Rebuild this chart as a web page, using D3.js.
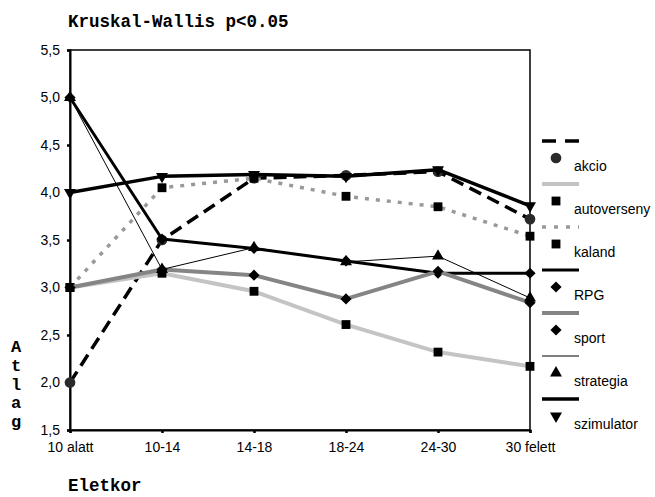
<!DOCTYPE html>
<html>
<head>
<meta charset="utf-8">
<script src="https://cdn.jsdelivr.net/npm/d3@7"></script>
<style>
body { margin: 0; background: #fff; }
text { font-family: "Liberation Sans", Arial, sans-serif; }
.mono { font-family: "Liberation Mono", "Courier New", monospace; font-weight: bold; }
</style>
</head>
<body>
<div id="chart"></div>
<script>
var categories = ["10 alatt", "10-14", "14-18", "18-24", "24-30", "30 felett"];
var seriesNames = ["akcio", "autoverseny", "kaland", "RPG", "sport", "strategia", "szimulator"];

var akcio       = [2.00, 3.50, 4.15, 4.18, 4.22, 3.72];
var autoverseny = [3.00, 3.15, 2.96, 2.61, 2.32, 2.17];
var kaland      = [3.00, 4.05, 4.15, 3.96, 3.85, 3.54];
var rpg         = [5.00, 3.51, 3.41, 3.28, 3.15, 3.15];
var sport       = [3.00, 3.19, 3.13, 2.88, 3.17, 2.84];
var strategia   = [5.00, 3.19, 3.42, 3.27, 3.33, 2.89];
var szimulator  = [4.00, 4.17, 4.19, 4.17, 4.24, 3.86];

var yTicks = [1.5, 2.0, 2.5, 3.0, 3.5, 4.0, 4.5, 5.0, 5.5];
var yTitle = "Atlag";

var seriesValues = [akcio, autoverseny, kaland, rpg, sport, strategia, szimulator];

// line + marker look of every series, in the same order as seriesNames
var styles = [
    {stroke: "#000", width: 3.5, dash: "13,7", symbol: "circle", fill: "#2a2a2a"},
    {stroke: "#c4c4c4", width: 4, dash: null, symbol: "square", fill: "#000"},
    {stroke: "#999", width: 3.5, dash: "4,7", symbol: "square", fill: "#000"},
    {stroke: "#000", width: 3, dash: null, symbol: "diamond", fill: "#000"},
    {stroke: "#858585", width: 4, dash: null, symbol: "diamond", fill: "#000"},
    {stroke: "#000", width: 1, dash: null, symbol: "triangle", fill: "#000"},
    {stroke: "#000", width: 3.5, dash: null, symbol: "triangleDown", fill: "#000"}
];

var width = 655, height = 497;
var plot = {left: 70, right: 530, top: 50, bottom: 430};

var svg = d3.select("#chart").append("svg")
    .attr("width", width)
    .attr("height", height);

var x = d3.scalePoint()
    .domain(categories)
    .range([plot.left, plot.right]);

var y = d3.scaleLinear()
    .domain([1.5, 5.5])
    .range([plot.bottom, plot.top]);

function marker(type) {
    if (type == "circle") return d3.symbol().type(d3.symbolCircle).size(90)();
    if (type == "square") return d3.symbol().type(d3.symbolSquare).size(78)();
    if (type == "diamond") return d3.symbol().type(d3.symbolSquare).size(62)();
    return d3.symbol().type(d3.symbolTriangle).size(62)();
}
function rotation(type) {
    if (type == "diamond") return 45;
    if (type == "triangleDown") return 180;
    return 0;
}

// frame
svg.append("rect")
    .attr("x", plot.left)
    .attr("y", plot.top)
    .attr("width", plot.right - plot.left)
    .attr("height", plot.bottom - plot.top)
    .attr("fill", "none")
    .attr("stroke", "#000")
    .attr("stroke-width", 1.5);

// axes
var yAxis = svg.append("g")
    .attr("transform", "translate(" + plot.left + ",0)")
    .call(d3.axisLeft(y).tickValues(yTicks).tickSize(3).tickPadding(7)
        .tickFormat(function(d) { return d3.format(".1f")(d).replace(".", ","); }));
var xAxis = svg.append("g")
    .attr("transform", "translate(0," + plot.bottom + ")")
    .call(d3.axisBottom(x).tickSize(3).tickPadding(9));

[yAxis, xAxis].forEach(function(a) {
    a.select(".domain").attr("stroke", "#000").attr("stroke-width", 2);
    a.selectAll(".tick line").attr("stroke", "#000").attr("stroke-width", 2.5);
    a.selectAll(".tick text")
        .attr("fill", "#000")
        .style("font-family", "'Liberation Sans', Arial, sans-serif")
        .style("font-size", "14px");
});

// series
var line = d3.line()
    .x(function(d, i) { return x(categories[i]); })
    .y(function(d) { return y(d); });

seriesValues.forEach(function(vals, k) {
    var st = styles[k];
    svg.append("path")
        .datum(vals)
        .attr("d", line)
        .attr("fill", "none")
        .attr("stroke", st.stroke)
        .attr("stroke-width", st.width)
        .attr("stroke-dasharray", st.dash)
        .attr("stroke-linejoin", "round");
    svg.append("g")
        .selectAll("path")
        .data(vals)
        .enter().append("path")
        .attr("d", marker(st.symbol))
        .attr("transform", function(d, i) {
            return "translate(" + x(categories[i]) + "," + y(d) + ") rotate(" + rotation(st.symbol) + ")";
        })
        .attr("fill", st.fill);
});

// legend
var legend = svg.append("g")
    .selectAll("g")
    .data(seriesNames)
    .enter().append("g")
    .attr("transform", function(d, i) { return "translate(542," + (141 + 43 * i) + ")"; });

legend.append("line")
    .attr("x1", 0).attr("x2", 37)
    .attr("stroke", function(d, i) { return styles[i].stroke; })
    .attr("stroke-width", function(d, i) { return styles[i].width; })
    .attr("stroke-dasharray", function(d, i) { return styles[i].dash ? (i == 0 ? "14,9" : "4,8") : null; });

legend.append("path")
    .attr("d", function(d, i) { return marker(styles[i].symbol); })
    .attr("transform", function(d, i) { return "translate(14,17) rotate(" + rotation(styles[i].symbol) + ")"; })
    .attr("fill", function(d, i) { return styles[i].fill; });

legend.append("text")
    .attr("x", 32)
    .attr("y", 30)
    .style("font-size", "14px")
    .text(function(d) { return d; });

// titles
svg.append("text")
    .attr("class", "mono")
    .attr("x", 68)
    .attr("y", 27)
    .style("font-size", "17.5px")
    .text("Kruskal-Wallis p<0.05");

svg.append("text")
    .attr("class", "mono")
    .attr("x", 68)
    .attr("y", 491)
    .style("font-size", "17.5px")
    .text("Eletkor");

svg.append("g")
    .selectAll("text")
    .data(yTitle.split(""))
    .enter().append("text")
    .attr("class", "mono")
    .attr("x", 16)
    .attr("y", function(d, i) { return 352 + 18.75 * i; })
    .attr("text-anchor", "middle")
    .style("font-size", "17px")
    .text(function(d) { return d; });
</script>
</body>
</html>
